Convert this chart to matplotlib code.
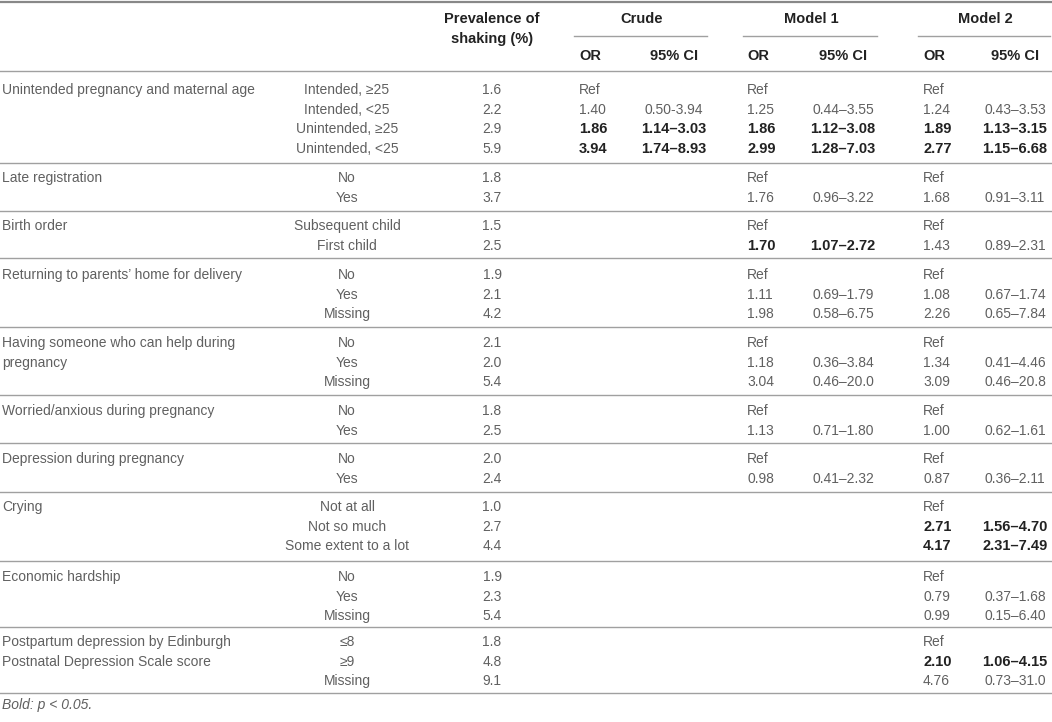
import matplotlib
matplotlib.use("Agg")
import matplotlib.pyplot as plt

# table data
groups = [
    "Unintended pregnancy and maternal age",
    "Late registration",
    "Birth order",
    "Returning to parents\u2019 home for delivery",
    "Having someone who can help during\npregnancy",
    "Worried/anxious during pregnancy",
    "Depression during pregnancy",
    "Crying",
    "Economic hardship",
    "Postpartum depression by Edinburgh\nPostnatal Depression Scale score",
]
levels = [
    ["Intended, \u226525", "Intended, <25", "Unintended, \u226525", "Unintended, <25"],
    ["No", "Yes"],
    ["Subsequent child", "First child"],
    ["No", "Yes", "Missing"],
    ["No", "Yes", "Missing"],
    ["No", "Yes"],
    ["No", "Yes"],
    ["Not at all", "Not so much", "Some extent to a lot"],
    ["No", "Yes", "Missing"],
    ["\u22648", "\u22659", "Missing"],
]
prevalence = [
    ["1.6", "2.2", "2.9", "5.9"],
    ["1.8", "3.7"],
    ["1.5", "2.5"],
    ["1.9", "2.1", "4.2"],
    ["2.1", "2.0", "5.4"],
    ["1.8", "2.5"],
    ["2.0", "2.4"],
    ["1.0", "2.7", "4.4"],
    ["1.9", "2.3", "5.4"],
    ["1.8", "4.8", "9.1"],
]
crude_or = [["Ref", "1.40", "1.86", "3.94"]]
crude_ci = [["", "0.50-3.94", "1.14\u20133.03", "1.74\u20138.93"]]
m1_or = [
    ["Ref", "1.25", "1.86", "2.99"],
    ["Ref", "1.76"],
    ["Ref", "1.70"],
    ["Ref", "1.11", "1.98"],
    ["Ref", "1.18", "3.04"],
    ["Ref", "1.13"],
    ["Ref", "0.98"],
]
m1_ci = [
    ["", "0.44\u20133.55", "1.12\u20133.08", "1.28\u20137.03"],
    ["", "0.96\u20133.22"],
    ["", "1.07\u20132.72"],
    ["", "0.69\u20131.79", "0.58\u20136.75"],
    ["", "0.36\u20133.84", "0.46\u201320.0"],
    ["", "0.71\u20131.80"],
    ["", "0.41\u20132.32"],
]
m2_or = [
    ["Ref", "1.24", "1.89", "2.77"],
    ["Ref", "1.68"],
    ["Ref", "1.43"],
    ["Ref", "1.08", "2.26"],
    ["Ref", "1.34", "3.09"],
    ["Ref", "1.00"],
    ["Ref", "0.87"],
    ["Ref", "2.71", "4.17"],
    ["Ref", "0.79", "0.99"],
    ["Ref", "2.10", "4.76"],
]
m2_ci = [
    ["", "0.43\u20133.53", "1.13\u20133.15", "1.15\u20136.68"],
    ["", "0.91\u20133.11"],
    ["", "0.89\u20132.31"],
    ["", "0.67\u20131.74", "0.65\u20137.84"],
    ["", "0.41\u20134.46", "0.46\u201320.8"],
    ["", "0.62\u20131.61"],
    ["", "0.36\u20132.11"],
    ["", "1.56\u20134.70", "2.31\u20137.49"],
    ["", "0.37\u20131.68", "0.15\u20136.40"],
    ["", "1.06\u20134.15", "0.73\u201331.0"],
]

plt.rcParams['font.family'] = ['Liberation Sans', 'DejaVu Sans']
FS = 10
FS_BOLD = 10.5
GREY = "#606060"
DARK = "#222222"
LINE = "#a0a0a0"

fig = plt.figure(figsize=(10.52, 7.22), dpi=100)
ax = fig.add_axes([0, 0, 1, 1])
ax.set_xlim(0, 1052)
ax.set_ylim(722, 0)
ax.axis("off")

def txt(x, y, s, ha="left", bold=False, color=None, style="normal"):
    ax.text(x, y, s, ha=ha, va="center", fontsize=FS_BOLD if bold else FS, style=style,
            fontweight="bold" if bold else "normal",
            color=color or (DARK if bold else GREY))

def sig(ci):
    # bold when the CI is entirely above 1
    if not ci:
        return False
    lo = float(ci.replace("\u2013", "-").split("-")[0])
    return lo > 1

# header
ax.plot([0, 1052], [1.5, 1.5], color="#888888", lw=1.6)
txt(492, 19, "Prevalence of", ha="center", bold=True)
txt(492, 39, "shaking (%)", ha="center", bold=True)
for name, x0, x1 in [("Crude", 574, 707), ("Model 1", 743, 877), ("Model 2", 918, 1050)]:
    txt((x0 + x1) / 2 + 1, 19, name, ha="center", bold=True)
    ax.plot([x0, x1], [36, 36], color=LINE, lw=1)
or_x = [579, 747, 923]
ci_x = [674, 843, 1015]
for i in range(3):
    txt(or_x[i], 56, "OR", bold=True)
    txt(ci_x[i], 56, "95% CI", ha="center", bold=True)

line_y = [71, 163, 211, 258, 327, 395, 443, 492, 561, 627, 693]
for y in line_y:
    ax.plot([0, 1052], [y, y], color=LINE, lw=1)

row_top = [90, 178, 226, 275, 343, 411, 459, 507, 577, 642]
step = 19.6
for g, name in enumerate(groups):
    top = row_top[g]
    for k, part in enumerate(name.split("\n")):
        txt(2, top + k * step, part)
    for r, lev in enumerate(levels[g]):
        y = top + r * step
        txt(347, y, lev, ha="center")
        txt(492, y, prevalence[g][r], ha="center")
        for m, (ors, cis) in enumerate([(crude_or, crude_ci), (m1_or, m1_ci), (m2_or, m2_ci)]):
            if g < len(ors):
                b = sig(cis[g][r])
                txt(or_x[m], y, ors[g][r], bold=b)
                if cis[g][r]:
                    txt(ci_x[m], y, cis[g][r], ha="center", bold=b)

txt(2, 705, "Bold: p < 0.05.", style="italic")

fig.savefig("out.png", dpi=100)
